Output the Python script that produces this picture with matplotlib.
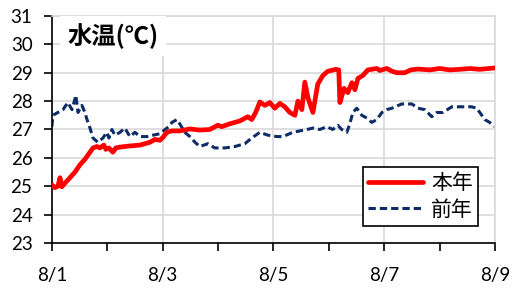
import matplotlib.pyplot as plt
from matplotlib.ticker import MultipleLocator

plt.rcParams['font.family'] = ['Lato', 'Noto Sans CJK JP', 'DejaVu Sans']

# hours since 8/1 00:00 and water temperature
this_hours = [0, 1.3, 2.6, 3.5, 4.3, 6.1, 7.8, 10, 12.1, 14.3, 16.5, 17.8, 19.5, 20.8,
              22.5, 23.4, 24.7, 26.4, 27.7, 29.5, 33.8, 38.1, 42.5, 44.6, 46.8, 48.1,
              49.8, 52, 55.4, 59.8, 64.1, 68.4, 71.9, 73.6, 77.1, 81.4, 84.9, 86.6,
              88.3, 90.1, 92.3, 94.4, 96.6, 98.8, 100.9, 103.1, 105.3, 106.6, 108.3,
              109.6, 111, 113.1, 115.2, 117.4, 119.5, 123, 124.3, 124.8, 126.6, 128.2,
              130, 131.3, 132.6, 134.7, 136.9, 140.8, 142.1, 145.1, 147.5, 149.5,
              152.9, 155.5, 158.6, 163.8, 168.1, 172.4, 176.7, 181.1, 185.4, 192]
this_temp = [25.05, 24.95, 25.0, 25.3, 24.98, 25.15, 25.3, 25.5, 25.75, 25.95, 26.2,
             26.35, 26.4, 26.35, 26.45, 26.3, 26.35, 26.2, 26.35, 26.38, 26.42, 26.45,
             26.55, 26.65, 26.62, 26.72, 26.9, 26.95, 26.95, 27.02, 26.98, 27.0, 27.15,
             27.1, 27.2, 27.3, 27.45, 27.35, 27.6, 27.97, 27.85, 27.95, 27.75, 27.92,
             27.8, 27.6, 27.5, 28.0, 27.7, 28.67, 28.1, 27.6, 28.6, 28.9, 29.05, 29.12,
             29.1, 27.95, 28.45, 28.3, 28.65, 28.4, 28.8, 28.9, 29.1, 29.15, 29.08,
             29.15, 29.05, 29.0, 29.0, 29.1, 29.13, 29.1, 29.15, 29.1, 29.12, 29.15,
             29.12, 29.17]

last_hours = [0, 0.4, 2.6, 4.8, 6.9, 8.7, 10.4, 11.3, 13, 14.3, 15.2, 16.5, 17.8, 19.9,
              22.1, 23.8, 24.7, 26, 27.3, 29.5, 31.6, 33.8, 36, 38.1, 41.2, 43.8, 46.8,
              49, 50.7, 52, 54.2, 55.4, 57.6, 59.8, 62, 64.1, 67.6, 70.6, 74.9, 79.3,
              83.6, 86.6, 90.1, 93.6, 97.5, 100.1, 104.4, 107.4, 110.5, 113.1, 116.1,
              119.1, 121.7, 123.9, 125.6, 127.8, 129.1, 130.4, 132.1, 134.3, 136.5,
              138.6, 140.8, 143, 145.1, 147.3, 151.6, 156, 158.6, 161.6, 164.6, 166.8,
              169.4, 173.3, 177.6, 181.9, 184.1, 186.3, 187.6, 189.7, 192]
last_temp = [27.1, 27.5, 27.6, 27.7, 27.95, 27.7, 28.2, 27.6, 27.85, 27.6, 27.35, 27.05,
             26.7, 26.55, 26.7, 26.9, 26.7, 27.0, 26.8, 26.9, 27.05, 26.75, 26.9, 26.75,
             26.75, 26.8, 26.85, 27.0, 27.1, 27.25, 27.35, 27.2, 26.9, 26.75, 26.55, 26.4,
             26.5, 26.35, 26.35, 26.4, 26.5, 26.7, 26.9, 26.8, 26.75, 26.75, 26.9, 26.95,
             27.0, 27.05, 27.0, 27.1, 27.0, 27.15, 27.0, 26.9, 27.2, 27.6, 27.75, 27.5,
             27.4, 27.25, 27.35, 27.6, 27.7, 27.75, 27.9, 27.9, 27.75, 27.7, 27.45, 27.6,
             27.6, 27.8, 27.8, 27.8, 27.75, 27.5, 27.35, 27.25, 27.1]

tick_hours = [0, 48, 96, 144, 192]
tick_labels = ['8/1', '8/3', '8/5', '8/7', '8/9']

fig = plt.figure(figsize=(5.14, 2.91), dpi=100)
ax = fig.add_axes([0.101, 0.165, 0.862, 0.780])

grid_c = '#d9d9d9'
ax.plot(this_hours, this_temp, color='#ff0000', lw=3.4, label='本年',
        solid_joinstyle='round', solid_capstyle='round', zorder=3)
ax.plot(last_hours, last_temp, color='#0d2b66', lw=2.2, ls=(0, (2.4, 1.3)),
        label='前年', zorder=2)

ax.set_xlim(0, 192)
ax.set_ylim(23, 31)
ax.set_xticks(tick_hours)
ax.set_xticklabels(tick_labels)
ax.xaxis.set_minor_locator(MultipleLocator(24))
ax.yaxis.set_major_locator(MultipleLocator(1))

ax.grid(axis='y', color=grid_c, lw=1.2)
ax.grid(axis='x', which='major', color=grid_c, lw=1.2)
ax.set_axisbelow(True)

for s in ['top', 'right']:
    ax.spines[s].set_color(grid_c)
    ax.spines[s].set_linewidth(1.2)
for s in ['left', 'bottom']:
    ax.spines[s].set_color('black')
    ax.spines[s].set_linewidth(1.2)

ax.tick_params(axis='both', which='both', direction='out', length=6, width=1.2,
               labelsize=13.5)
ax.tick_params(axis='x', which='both', pad=11)
ax.tick_params(axis='y', pad=8)

ax.text(0.035, 0.97, '水温(℃)', transform=ax.transAxes, fontsize=17.5,
        fontweight='bold', family=['Noto Sans CJK JP', 'DejaVu Sans'],
        va='top', ha='left', zorder=4,
        bbox=dict(facecolor='white', edgecolor='none', pad=5))

leg = ax.legend(loc='lower right', bbox_to_anchor=(0.985, 0.03), fancybox=False,
                edgecolor='black', framealpha=1, handlelength=2.6,
                borderpad=0.25, labelspacing=0.2, handletextpad=0.4,
                prop={'family': ['Noto Sans CJK JP'], 'size': 15})
leg.get_frame().set_linewidth(1.2)

fig.savefig('out.png', dpi=100)
